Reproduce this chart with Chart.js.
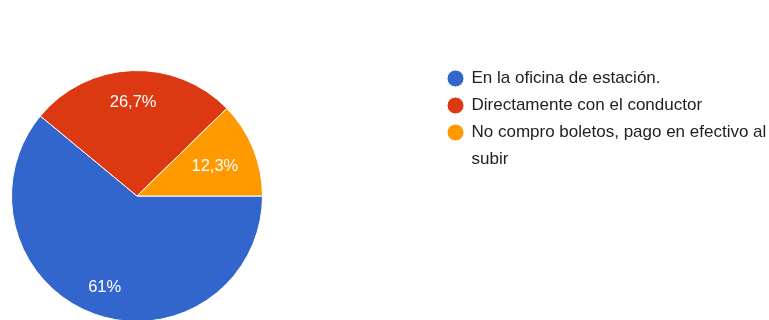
<!DOCTYPE html>
<html>
<head>
<meta charset="utf-8">
<script src="https://cdn.jsdelivr.net/npm/chart.js@4"></script>
<style>
  html, body { margin: 0; padding: 0; background: #fff; overflow: hidden; }
  #wrap { width: 769px; height: 330px; }
</style>
</head>
<body>
<div id="wrap"><canvas id="ticketChart" width="769" height="330"></canvas></div>
<script>
  const answers = [
    "En la oficina de estación.",
    "Directamente con el conductor",
    ["No compro boletos, pago en efectivo al", "subir"]
  ];
  const shares = [61, 26.7, 12.3];
  const sliceColors = ["#3366cc", "#dc3912", "#ff9900"];

  function toPercent(v) {
    return String(v).replace(".", ",") + "%";
  }

  // put the pie on the left and the legend to its right
  const placeBoxes = {
    id: "placeBoxes",
    afterLayout(chart) {
      Object.assign(chart.chartArea, {
        left: 11, right: 263, top: 70, bottom: 322, width: 252, height: 252
      });
      const legend = chart.legend;
      legend.left = 438;
      legend.right = legend.left + legend.width;
      legend.top = 60;
      legend.bottom = legend.top + 250;
    }
  };

  // percentage text inside each slice
  const sliceLabels = {
    id: "sliceLabels",
    afterDatasetsDraw(chart) {
      const ctx = chart.ctx;
      const data = chart.data.datasets[0].data;
      const total = data.reduce((a, b) => a + b, 0);
      chart.getDatasetMeta(0).data.forEach((arc, i) => {
        const p = arc.getProps(["x", "y", "startAngle", "endAngle", "outerRadius"], true);
        const mid = (p.startAngle + p.endAngle) / 2;
        const k = data[i] / total < 0.15 ? 0.67 : 0.76;
        ctx.save();
        ctx.fillStyle = "#ffffff";
        ctx.font = "16.5px Arial, 'Liberation Sans', sans-serif";
        ctx.textAlign = "center";
        ctx.textBaseline = "middle";
        ctx.fillText(toPercent(data[i]),
          p.x + Math.cos(mid) * p.outerRadius * k,
          p.y + Math.sin(mid) * p.outerRadius * k + 2);
        ctx.restore();
      });
    }
  };

  const ctx = document.getElementById("ticketChart").getContext("2d");
  new Chart(ctx, {
    type: "pie",
    data: {
      labels: answers,
      datasets: [{
        data: shares,
        backgroundColor: sliceColors,
        borderColor: "#ffffff",
        borderWidth: 1
      }]
    },
    options: {
      responsive: false,
      animation: false,
      rotation: 90,
      plugins: {
        tooltip: { enabled: false },
        legend: {
          position: "right",
          align: "start",
          labels: {
            usePointStyle: true,
            pointStyle: "circle",
            boxWidth: 15,
            boxHeight: 12,
            padding: 10,
            color: "#222222",
            font: { family: "Arial, 'Liberation Sans', sans-serif", size: 17, lineHeight: 1.58 }
          }
        }
      }
    },
    plugins: [placeBoxes, sliceLabels]
  });
</script>
</body>
</html>
